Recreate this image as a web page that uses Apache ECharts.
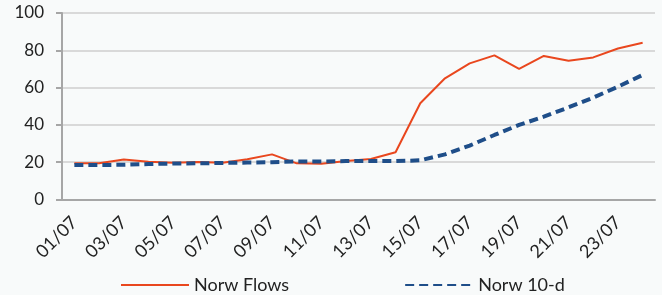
<!DOCTYPE html>
<html>
<head>
<meta charset="utf-8">
<script src="https://cdn.jsdelivr.net/npm/echarts@6/dist/echarts.min.js"></script>
<style>
	html, body { margin: 0; padding: 0; background: #f8fafa; }
	#chart { width: 662px; height: 295px; }
</style>
</head>
<body>
<div id="chart"></div>
<script>
	// categories: 01/07 .. 24/07
	var days = ['01/07', '02/07', '03/07', '04/07', '05/07', '06/07', '07/07', '08/07',
		'09/07', '10/07', '11/07', '12/07', '13/07', '14/07', '15/07', '16/07',
		'17/07', '18/07', '19/07', '20/07', '21/07', '22/07', '23/07', '24/07'];
	var norwFlows = [19.4, 19.4, 21.5, 20.3, 19.7, 20.1, 19.7, 21.6, 24.2, 19.4, 19.2, 20.6,
		21.7, 25.3, 51.6, 65, 73, 77.3, 70, 77, 74.4, 76.2, 81, 84];
	var norw10d = [18.5, 18.5, 18.6, 19, 19.3, 19.4, 19.6, 19.8, 20, 20.4, 20.4, 20.6,
		20.6, 20.6, 21, 24.2, 28.9, 34.6, 40, 44.4, 49.4, 54.6, 60.5, 66.8];

	var myChart = echarts.init(document.getElementById('chart'));
	myChart.setOption({
		backgroundColor: '#f8fafa',
		textStyle: { fontFamily: 'Lato' },
		animation: false,
		grid: { left: 62, right: 7, top: 13, bottom: 95.5 },
		legend: {
			top: 271,
			left: 115,
			itemWidth: 68,
			itemHeight: 12,
			itemGap: 115,
			itemStyle: { opacity: 0 },
			textStyle: { fontSize: 18, color: '#222' },
			data: ['Norw Flows', 'Norw 10-d']
		},
		xAxis: {
			type: 'category',
			data: days,
			boundaryGap: true,
			axisLine: { lineStyle: { color: '#a6a6a6', width: 2 } },
			axisTick: { interval: 1, length: 6, lineStyle: { color: '#a6a6a6', width: 2 } },
			axisLabel: { interval: 1, rotate: 45, fontSize: 18, color: '#222', margin: 20 }
		},
		yAxis: {
			type: 'value',
			min: 0,
			max: 100,
			interval: 20,
			axisLine: { show: true, lineStyle: { color: '#a6a6a6', width: 2 } },
			axisTick: { show: true, length: 6, lineStyle: { color: '#a6a6a6', width: 2 } },
			axisLabel: { fontSize: 17, color: '#222', margin: 18 },
			splitLine: { lineStyle: { color: '#d9d9d9', width: 2 } }
		},
		series: [{
			name: 'Norw Flows',
			type: 'line',
			data: norwFlows,
			symbol: 'none',
			itemStyle: { color: '#e9471e' },
			lineStyle: { color: '#e9471e', width: 2 }
		}, {
			name: 'Norw 10-d',
			type: 'line',
			data: norw10d,
			symbol: 'none',
			itemStyle: { color: '#1f4e89' },
			lineStyle: { color: '#1f4e89', width: 4, type: [9, 5] }
		}]
	});
</script>
</body>
</html>
